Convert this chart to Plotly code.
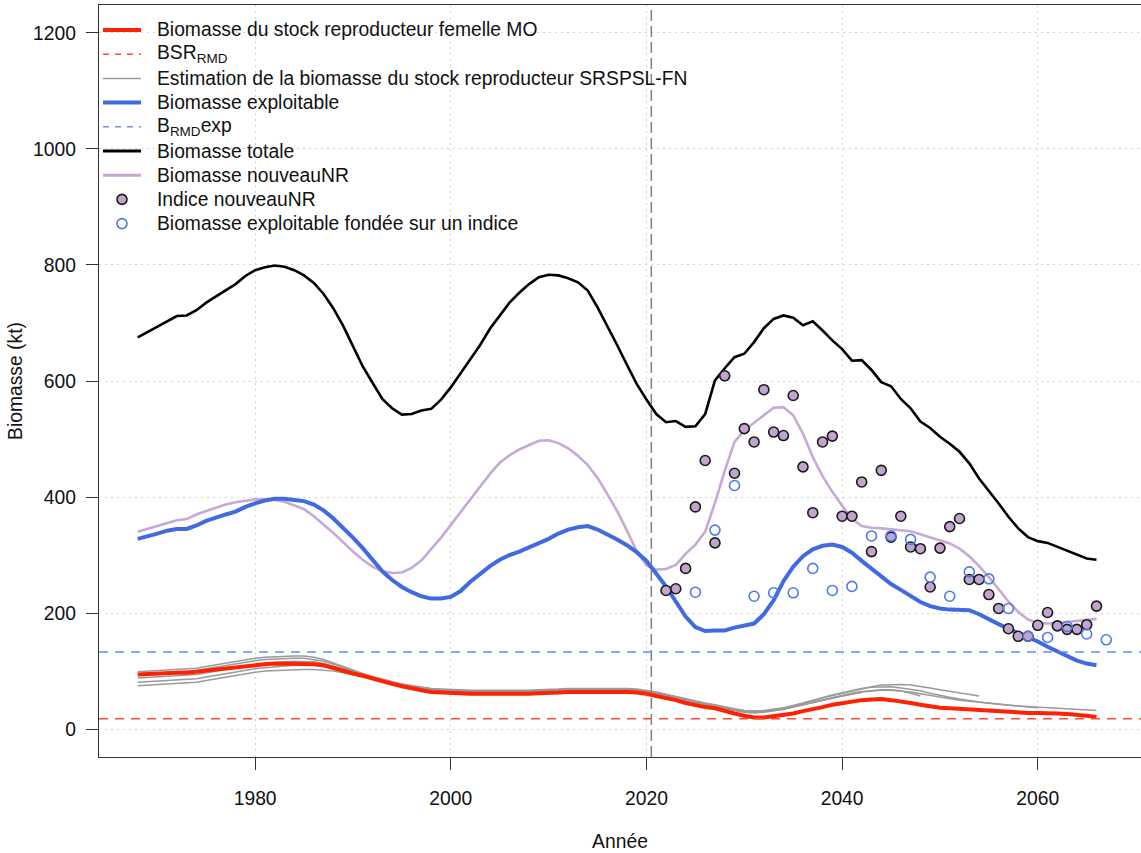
import plotly.graph_objects as go

# ---------------- data ----------------
years = list(range(1968, 2067))

biomasse_totale = [675, 684, 693, 703, 712, 713, 722, 735, 746, 757, 767, 781, 791, 796, 799, 797, 791, 782, 769, 750,
                   725, 695, 660, 625, 597, 569, 553, 542, 543, 549, 552, 568, 589, 613, 637, 662, 690, 712, 735, 752,
                   767, 779, 783, 782, 777, 770, 756, 727, 695, 662, 628, 595, 568, 543, 529, 531, 521, 522, 543, 601,
                   622, 641, 647, 667, 691, 707, 713, 709, 696, 703, 687, 670, 655, 635, 636, 619, 598, 591, 569, 553,
                   530, 519, 504, 492, 478, 458, 432, 411, 389, 366, 346, 331, 324, 321, 314, 307, 301, 294, 292]

biomasse_exploitable = [328, 332, 337, 342, 345, 345, 351, 359, 365, 370, 375, 383, 389, 394, 397, 397, 395, 393, 387, 377,
                        363, 347, 330, 312, 292, 272, 257, 245, 236, 229, 225, 225, 228, 238, 254, 268, 281, 292, 300, 306,
                        313, 320, 328, 337, 344, 348, 350, 344, 336, 327, 317, 305, 290, 268, 246, 220, 194, 176, 169, 170,
                        170, 175, 178, 182, 198, 222, 255, 280, 298, 310, 316, 318, 314, 304, 290, 276, 262, 250, 240, 229,
                        219, 212, 208, 206, 206, 205, 198, 189, 181, 173, 166, 159, 151, 142, 134, 126, 118, 113, 110]

biomasse_nouveauNR = [340, 345, 350, 355, 360, 362, 370, 376, 382, 387, 391, 394, 396, 396, 395, 392, 386, 379, 367, 353,
                      338, 322, 306, 292, 280, 272, 269, 270, 278, 291, 310, 330, 352, 374, 396, 418, 440, 459, 472, 482,
                      490, 497, 498, 493, 484, 471, 455, 433, 405, 376, 342, 307, 282, 275, 276, 283, 302, 318, 340, 390,
                      445, 495, 515, 528, 541, 554, 555, 541, 509, 469, 436, 409, 385, 363, 350, 347, 346, 344, 343, 341,
                      336, 331, 326, 320, 311, 298, 281, 262, 241, 220, 202, 189, 183, 182, 183, 185, 186, 188, 190]

bsr_mo = [94, 95, 96, 96, 97, 97, 99, 101, 103, 105, 107, 109, 110, 112, 113, 113, 113, 113, 112, 110,
          105, 100, 96, 92, 87,
          82, 78, 74, 70, 67, 64, 63, 62, 62, 61, 61, 61, 60, 60, 60, 61, 62, 62, 63, 64, 64, 65, 65, 65,
          65, 64, 63, 61,
          57, 54, 50, 45, 41, 38, 36, 31, 27, 23, 20, 20, 22, 24, 27, 31, 34, 38, 42, 45, 48, 50, 51, 52,
          50, 48, 45, 42, 39, 37, 36, 35, 33, 32, 31, 30, 29, 29, 28, 28, 28, 27, 26, 25, 23, 21]

# SRSPSL-FN spawning stock biomass estimates (five runs, different end years)
srspsl_1 = ([75, 76, 77, 78, 78, 79, 81, 84, 87, 90, 93, 96, 98, 100, 101, 102, 103, 103, 103, 102, 100, 97, 94, 91, 87]
            + [83, 79, 76, 73, 70, 68, 67, 66, 65, 65, 65, 64, 64, 64, 64, 64, 65, 66, 66, 67, 67, 68, 68, 68, 68, 67, 66, 64]
            + [61, 57, 53, 49, 45, 42, 39, 35, 32, 29, 28, 29, 31, 34, 38, 42, 46, 50, 54, 57, 60, 63])
srspsl_2 = ([81, 82, 83, 84, 84, 85, 87, 90, 93, 96, 99, 102, 104, 106, 108, 109, 110, 110, 110, 108, 105, 101, 97, 93, 88]
            + [84, 80, 76, 73, 70, 68, 67, 66, 66, 65, 65, 65, 64, 64, 64, 65, 66, 66, 67, 68, 68, 69, 69, 69, 69, 68, 67, 65]
            + [62, 58, 54, 50, 46, 43, 40, 36, 33, 30, 29, 30, 32, 35, 39, 43, 47, 51, 55, 59, 62, 65, 67, 68, 68, 66, 62, 57])
srspsl_3 = ([88, 89, 90, 91, 91, 92, 94, 97, 100, 103, 106, 109, 111, 113, 115, 116, 117, 117, 116, 113, 109, 104, 99, 94, 89]
            + [85, 81, 77, 74, 71, 69, 68, 67, 66, 66, 66, 65, 65, 65, 65, 65, 66, 67, 67, 68, 68, 69, 69, 69, 69, 68, 67, 65]
            + [62, 58, 54, 50, 46, 43, 40, 36, 33, 31, 30, 31, 33, 36, 40, 44, 49, 54, 58, 62, 66, 70, 73, 76, 77, 77, 76, 74,
               71, 68, 65, 62, 60, 57])
srspsl_4 = ([95, 96, 97, 98, 98, 99, 101, 104, 107, 110, 113, 116, 118, 120, 121, 122, 122, 122, 120, 117, 112, 106, 100, 95, 90]
            + [85, 81, 77, 74, 71, 69, 68, 67, 67, 66, 66, 66, 65, 65, 65, 66, 67, 67, 68, 69, 69, 70, 70, 70, 70, 69, 68, 66]
            + [63, 59, 55, 51, 47, 44, 41, 37, 34, 32, 31, 32, 34, 37, 41, 45, 50, 54, 59, 63, 67, 70, 72, 73, 73, 71, 69, 66,
               62, 58, 55, 52, 49, 47, 45, 43, 41, 39, 38, 37])
srspsl_5 = ([99, 100, 101, 102, 102, 103, 105, 108, 111, 114, 117, 120, 122, 124, 125, 126, 126, 126, 124, 120, 114, 107, 101, 96, 91]
            + [86, 82, 78, 75, 72, 70, 69, 68, 68, 67, 67, 67, 66, 66, 66, 67, 68, 68, 69, 70, 70, 71, 71, 71, 71, 70, 69, 67]
            + [64, 60, 56, 52, 48, 45, 42, 38, 35, 32, 31, 31, 33, 35, 38, 42, 46, 50, 54, 58, 61, 64, 66, 67, 67, 66, 64, 61,
               58, 55, 52, 50, 48, 46, 44, 42, 41, 40, 39, 38, 37, 36, 35, 34, 33, 32])
srspsl_runs = [srspsl_1, srspsl_2, srspsl_3, srspsl_4, srspsl_5]

index_years = list(range(2022, 2067))
indice_nouveauNR = [239, 242, 277, 383, 463, 321, 609, 441, 518, 495, 585, 512, 506, 575, 452, 373, 495, 505, 367, 367,
                    426, 306, 446, 331, 367, 314, 311, 245, 312, 349, 363, 258, 258, 232, 208, 173, 160, 160, 179, 201,
                    178, 172, 172, 180, 212]

index_exp_years = list(range(2025, 2068, 2))
biomasse_exp_indice = [236, 343, 420, 229, 235, 235, 277, 239, 246, 333, 333, 327, 262, 229, 271, 259, 208, 160, 158,
                       177, 164, 154]

BSR_RMD = 18
B_RMD_EXP = 133
LAST_HISTORICAL_YEAR = 2020.5

x_ticks = [1980, 2000, 2020, 2040, 2060]
y_ticks = [0, 200, 400, 600, 800, 1000, 1200]

legend_labels = [
    "Biomasse du stock reproducteur femelle MO",
    "BSR<sub>RMD</sub>",
    "Estimation de la biomasse du stock reproducteur SRSPSL-FN",
    "Biomasse exploitable",
    "B<sub>RMD</sub>exp",
    "Biomasse totale",
    "Biomasse nouveauNR",
    "Indice nouveauNR",
    "Biomasse exploitable fondée sur un indice",
]

# ---------------- styles ----------------
RED = "#FF2200"
RED_DASH = "#FF4A3A"
GREY = "#9A9A9A"
BLUE = "#4169E1"
BLUE_DASH = "#6B8CF2"
BLACK = "#000000"
LAVENDER = "#C6A9D6"
POINT_FILL = "#C2A5CC"
OPEN_BLUE = "#4F7BEA"
FONT = "Liberation Sans, Arial, Helvetica, sans-serif"
FS = 19.3

W, H = 1141, 853
L, R, T, B = 99, 1141, 5, 757
X_RANGE = [1964.04, 2070.55]
Y_RANGE = [-48, 1248]

fig = go.Figure()

for run in srspsl_runs:
    fig.add_trace(go.Scatter(x=years[:len(run)], y=run, mode="lines",
                             line=dict(color=GREY, width=1.5), showlegend=False,
                             name=legend_labels[2]))

fig.add_trace(go.Scatter(x=years, y=bsr_mo, mode="lines", line=dict(color=RED, width=4),
                         showlegend=False, name=legend_labels[0]))
fig.add_trace(go.Scatter(x=years, y=biomasse_nouveauNR, mode="lines", line=dict(color=LAVENDER, width=2.6),
                         showlegend=False, name=legend_labels[6]))
fig.add_trace(go.Scatter(x=years, y=biomasse_exploitable, mode="lines", line=dict(color=BLUE, width=4),
                         showlegend=False, name=legend_labels[3]))
fig.add_trace(go.Scatter(x=years, y=biomasse_totale, mode="lines", line=dict(color=BLACK, width=2.6),
                         showlegend=False, name=legend_labels[5]))
fig.add_trace(go.Scatter(x=index_years, y=indice_nouveauNR, mode="markers",
                         marker=dict(size=10, color=POINT_FILL, line=dict(color="#1a1a1a", width=1.6)),
                         showlegend=False, name=legend_labels[7]))
fig.add_trace(go.Scatter(x=index_exp_years, y=biomasse_exp_indice, mode="markers",
                         marker=dict(size=10, color="rgba(0,0,0,0)", line=dict(color=OPEN_BLUE, width=1.6)),
                         showlegend=False, name=legend_labels[8]))

# reference lines
fig.add_hline(y=BSR_RMD, line=dict(color=RED_DASH, width=1.4, dash="9px,7px"))
fig.add_hline(y=B_RMD_EXP, line=dict(color=BLUE_DASH, width=1.4, dash="9px,7px"))
fig.add_vline(x=LAST_HISTORICAL_YEAR, line=dict(color="#808080", width=1.5, dash="11px,5px"))

# ---------------- manual legend (R-style, no box) ----------------
def px(xp):
    return (xp - L) / (R - L)


def py(yp):
    return (B - yp) / (B - T)


row0, row_gap = 30, 24.2
sample_x0, sample_x1, text_x = 103, 141, 155
legend_styles = [
    dict(kind="line", color=RED, width=4, dash="solid"),
    dict(kind="line", color=RED_DASH, width=1.5, dash="6px,6px"),
    dict(kind="line", color=GREY, width=1.5, dash="solid"),
    dict(kind="line", color=BLUE, width=4, dash="solid"),
    dict(kind="line", color=BLUE_DASH, width=1.5, dash="6px,6px"),
    dict(kind="line", color=BLACK, width=3, dash="solid"),
    dict(kind="line", color=LAVENDER, width=3, dash="solid"),
    dict(kind="marker", fill=POINT_FILL, edge="#1a1a1a"),
    dict(kind="marker", fill="rgba(0,0,0,0)", edge=OPEN_BLUE),
]
for i, (label, st) in enumerate(zip(legend_labels, legend_styles)):
    yc = row0 + i * row_gap
    if st["kind"] == "line":
        fig.add_shape(type="line", xref="paper", yref="paper", x0=px(sample_x0), x1=px(sample_x1),
                      y0=py(yc), y1=py(yc), line=dict(color=st["color"], width=st["width"], dash=st["dash"]))
    else:
        fig.add_shape(type="circle", xref="paper", yref="paper", xsizemode="pixel", ysizemode="pixel",
                      xanchor=px((sample_x0 + sample_x1) / 2), yanchor=py(yc), x0=-5, x1=5, y0=-5, y1=5,
                      fillcolor=st["fill"], line=dict(color=st["edge"], width=1.6))
    fig.add_annotation(x=px(text_x), y=py(yc), xref="paper", yref="paper", xanchor="left", yanchor="middle",
                       text=label, showarrow=False,
                       font=dict(family=FONT, size=FS, color="#111111"))

axis_common = dict(showline=True, linecolor="#333333", linewidth=1.3, ticks="outside", ticklen=12,
                   tickwidth=1.3, tickcolor="#333333", showgrid=True, gridcolor="#d2d2d2", gridwidth=1,
                   griddash="2px,4px", zeroline=False, tickfont=dict(family=FONT, size=FS, color="#111111"))

fig.update_xaxes(range=X_RANGE, tickvals=x_ticks, mirror=True,
                 title=dict(text="Année", font=dict(family=FONT, size=FS, color="#111111"), standoff=26),
                 ticklabelstandoff=12, **axis_common)
fig.update_yaxes(range=Y_RANGE, tickvals=y_ticks, mirror=False,
                 title=dict(text="Biomasse (kt)", font=dict(family=FONT, size=FS, color="#111111"), standoff=5),
                 ticklabelstandoff=6, **axis_common)

fig.update_layout(width=W, height=H, margin=dict(l=L, r=W - R, t=T, b=H - B, autoexpand=False),
                  paper_bgcolor="white", plot_bgcolor="white", showlegend=False,
                  font=dict(family=FONT, size=FS, color="#111111"))

fig.write_html("out.html")
